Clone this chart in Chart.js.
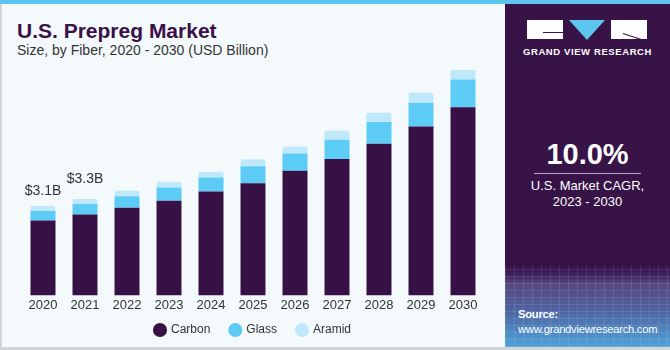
<!DOCTYPE html>
<html>
<head>
<meta charset="utf-8">
<script src="https://cdn.jsdelivr.net/npm/chart.js@4"></script>
<style>
  body { margin: 0; width: 670px; height: 350px; overflow: hidden; background: #fff; font-family: "Liberation Sans", Arial, sans-serif; }
  #wrap { position: relative; width: 670px; height: 350px; background: #f4f9fc; overflow: hidden; }
  #stripe { position: absolute; left: 0; top: 0; width: 670px; height: 4px; background: #5cc6ef; }
  #leftline { position: absolute; left: 0; top: 4px; width: 2px; height: 344px; background: #d3d6d8; }
  #bottomline { position: absolute; left: 0; top: 347px; width: 670px; height: 3px; background: #d3d6d8; z-index: 5; }
  #title { position: absolute; left: 17px; top: 19px; font-size: 21px; font-weight: bold; color: #3a1048; }
  #subtitle { position: absolute; left: 17px; top: 42px; font-size: 14px; color: #333; }
  #chartbox { position: absolute; left: 2px; top: 60px; width: 503px; height: 300px; }
  #panel { position: absolute; left: 505px; top: 4px; width: 165px; height: 343px; background: #371347; overflow: hidden; z-index: 4; }
  .logo { position: absolute; top: 16px; height: 19px; background: #fff; }
  #tri { position: absolute; left: 64px; top: 16px; width: 0; height: 0; border-left: 18px solid transparent; border-right: 18px solid transparent; border-top: 20px solid #5cc6ef; }
  #gvr { position: absolute; left: 0; width: 165px; top: 42px; text-align: center; color: #fff; font-size: 9.5px; font-weight: bold; letter-spacing: 0.6px; }
  #cagr { position: absolute; left: 0; width: 165px; top: 134px; text-align: center; color: #fff; font-size: 29px; font-weight: bold; }
  #rule { position: absolute; left: 29px; top: 169px; width: 107px; height: 1px; background: #b7a6c8; }
  #cagrtxt { position: absolute; left: 0; width: 165px; top: 174px; text-align: center; color: #fff; font-size: 13px; line-height: 16px; }
  #source { position: absolute; left: 0; top: 262px; width: 165px; height: 81px;
    background:
      repeating-linear-gradient(90deg, rgba(255,255,255,0.09) 0 1px, transparent 1px 9px),
      repeating-linear-gradient(0deg, rgba(255,255,255,0.09) 0 1px, transparent 1px 7px),
      linear-gradient(180deg, #371347 0%, #3f2060 10%, #56487f 22%, #4f63a2 55%, #4fa3da 100%); }
  #srctxt { position: absolute; left: 13px; top: 303px; color: #fff; font-size: 11.2px; line-height: 15px; letter-spacing: -0.25px; }
</style>
</head>
<body>
<div id="wrap">
  <div id="stripe"></div>
  <div id="leftline"></div>
  <div id="title">U.S. Prepreg Market</div>
  <div id="subtitle">Size, by Fiber, 2020 - 2030 (USD Billion)</div>
  <div id="chartbox"><canvas id="chart"></canvas></div>
  <div id="panel">
    <div class="logo" style="left:22px;width:36px"></div>
    <div style="position:absolute;left:38px;top:28px;width:20px;height:1px;background:#371347"></div>
    <div id="tri"></div>
    <div class="logo" style="left:106px;width:36px"></div>
    <div style="position:absolute;left:118px;top:29px;width:24px;height:1px;background:#371347;transform:rotate(18deg);transform-origin:left center"></div>
    <div id="gvr">GRAND VIEW RESEARCH</div>
    <div id="cagr">10.0%</div>
    <div id="rule"></div>
    <div id="cagrtxt">U.S. Market CAGR,<br>2023 - 2030</div>
    <div id="source"></div>
    <div id="srctxt"><b>Source:</b><br>www.grandviewresearch.com</div>
  </div>
  <div id="bottomline"></div>
</div>
<script>
const years = ['2020', '2021', '2022', '2023', '2024', '2025', '2026', '2027', '2028', '2029', '2030'];
const carbon = [2.61, 2.82, 3.05, 3.30, 3.62, 3.91, 4.34, 4.75, 5.28, 5.88, 6.55];
const glass = [0.33, 0.36, 0.40, 0.46, 0.49, 0.59, 0.60, 0.67, 0.76, 0.83, 0.97];
const aramid = [0.17, 0.18, 0.20, 0.20, 0.20, 0.24, 0.25, 0.32, 0.32, 0.35, 0.34];
const totalLabels = ['$3.1B', '$3.3B', '', '', '', '', '', '', '', '', ''];

// writes the total label above the first two stacks
const totalsPlugin = {
    id: 'totals',
    afterDatasetsDraw(chart) {
        const ctx = chart.ctx;
        const top = chart.getDatasetMeta(2).data;
        const lift = [8, 13];
        ctx.save();
        ctx.font = '14px "Liberation Sans", Arial, sans-serif';
        ctx.fillStyle = '#333';
        ctx.textAlign = 'center';
        ctx.textBaseline = 'bottom';
        totalLabels.forEach((t, i) => {
            if (t) ctx.fillText(t, top[i].x, top[i].y - (lift[i] || 8));
        });
        ctx.restore();
    }
};

// legend keeps its wide item spacing but sits closer to the axis
const legendShift = {
    id: 'legendShift',
    afterLayout(chart) {
        chart.legend.top -= 11;
        chart.legend.bottom -= 11;
    }
};

const chart1 = document.getElementById('chart');

new Chart(chart1, {
    type: 'bar',
    data: {
        labels: years,
        datasets: [
            { label: 'Carbon', data: carbon, backgroundColor: '#371146' },
            { label: 'Glass', data: glass, backgroundColor: '#5ccbf6' },
            { label: 'Aramid', data: aramid, backgroundColor: '#bfe9fa', borderRadius: { topLeft: 2, topRight: 2 } }
        ]
    },
    options: {
        responsive: true,
        maintainAspectRatio: false,
        animation: false,
        layout: { padding: { left: 20, right: 21, top: 10, bottom: 3 } },
        datasets: { bar: { barPercentage: 0.595, categoryPercentage: 1 } },
        scales: {
            x: {
                stacked: true,
                grid: { display: false, drawTicks: false },
                border: { display: false },
                ticks: { color: '#333', font: { size: 13, family: '"Liberation Sans", Arial, sans-serif' }, padding: 2 }
            },
            y: {
                stacked: true,
                display: false,
                min: 0,
                max: 7.85
            }
        },
        plugins: {
            legend: {
                position: 'bottom',
                labels: {
                    usePointStyle: true,
                    pointStyle: 'circle',
                    boxWidth: 10,
                    boxHeight: 10,
                    padding: 20,
                    color: '#333',
                    font: { size: 12, family: '"Liberation Sans", Arial, sans-serif' }
                }
            },
            tooltip: { enabled: false }
        }
    },
    plugins: [totalsPlugin, legendShift]
});
</script>
</body>
</html>
